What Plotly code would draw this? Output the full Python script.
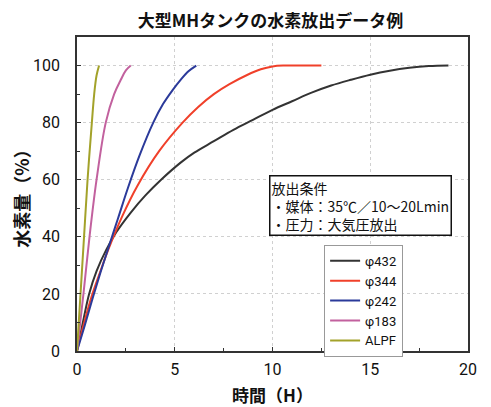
import plotly.graph_objects as go

title_text = "<b>大型MHタンクの水素放出データ例</b>"
x_title = "<b>時間（H）</b>"
y_title = "<b>水素量（%）</b>"
cond_text = "放出条件<br>・媒体：35℃／10～20Lmin<br>・圧力：大気圧放出"

series_names = ["φ432", "φ344", "φ242", "φ183", "ALPF"]
series_colors = ["#333333", "#f0402a", "#2b3a9a", "#c2619e", "#a3a22a"]

x_432 = [0, 0.3, 0.62, 1.0, 1.5, 2.0, 2.75, 3.5, 4.3, 5.3, 6.0, 7.0, 8.0, 9.0, 10.0, 11.0, 12.0, 13.0, 14.0, 15.0, 16.0, 17.0, 18.0, 19.0]
y_432 = [0, 10, 20, 28, 35.5, 41.5, 48.5, 54.5, 60, 66, 69.5, 73.5, 77.5, 81, 84.5, 87.5, 90.5, 93, 95, 96.8, 98.2, 99.2, 99.8, 100]

x_344 = [0, 0.37, 0.79, 1.2, 1.6, 2.3, 3.1, 4.2, 5.4, 6.2, 7.0, 7.8, 8.7, 9.4, 10.0, 10.6, 12.5]
y_344 = [0, 10, 20, 28, 35.5, 47, 58, 70, 80, 85.5, 90, 93.5, 96.7, 98.7, 99.7, 100, 100]

x_242 = [0, 0.4, 0.8, 1.2, 1.6, 2.1, 2.6, 3.2, 3.9, 4.4, 4.9, 5.3, 5.7, 6.1]
y_242 = [0, 9, 18.5, 27.5, 36, 46.5, 57, 68.5, 80, 86.5, 91.5, 95, 98, 100]

x_183 = [0, 0.33, 0.64, 1.0, 1.47, 1.9, 2.24, 2.5, 2.75]
y_183 = [0, 20, 40, 60, 80, 90, 95, 98.3, 100]

x_alpf = [0, 0.18, 0.36, 0.54, 0.76, 0.88, 1.0, 1.13]
y_alpf = [0, 20, 40, 60, 80, 90, 96.5, 100]

xs = [x_432, x_344, x_242, x_183, x_alpf]
ys = [y_432, y_344, y_242, y_183, y_alpf]

x_ticks = [0, 5, 10, 15, 20]
y_ticks = [0, 20, 40, 60, 80, 100]

FONT = "Noto Sans CJK JP"
NUM_FONT = "Roboto"

fig = go.Figure()
for name, color, xv, yv in zip(series_names, series_colors, xs, ys):
    fig.add_trace(go.Scatter(
        x=xv, y=yv, name=name, mode="lines",
        line=dict(color=color, width=2, shape="spline", smoothing=1.0),
    ))

# page body adds an 8px margin; figure is sized so plot area lands where the reference has it
fig.update_layout(
    width=483, height=399,
    margin=dict(l=69, r=23, t=29, b=56),
    paper_bgcolor="white", plot_bgcolor="white",
    font=dict(family=FONT, color="#222222"),
    title=dict(text=title_text, x=0.5435, xanchor="center", y=0.968, yanchor="middle",
               font=dict(size=17, family=FONT, color="#111111")),
    showlegend=True,
    legend=dict(
        x=0.632, y=0.338, xanchor="left", yanchor="top",
        bgcolor="white", bordercolor="#999999", borderwidth=1,
        font=dict(size=13, family=NUM_FONT, color="#111111"),
        tracegroupgap=0, itemwidth=30,
    ),
    annotations=[dict(
        text=cond_text, xref="paper", yref="paper",
        x=0.492, y=0.56, xanchor="left", yanchor="top",
        showarrow=False, align="left",
        font=dict(size=14, family=FONT, color="#111111"),
        bordercolor="#111111", borderwidth=1.5, borderpad=1, bgcolor="white",
    )],
)

fig.update_xaxes(
    automargin=False,
    range=[0, 20], tickvals=x_ticks, ticktext=[str(v) for v in x_ticks],
    showline=True, linecolor="#333333", linewidth=1.5, mirror=True,
    ticks="inside", ticklen=4, tickcolor="#333333", ticklabelstandoff=3,
    minor=dict(dtick=2.5, ticks="inside", ticklen=3, tickcolor="#333333", showgrid=False),
    showgrid=True, gridcolor="#d0d0d0", griddash="dot", gridwidth=1,
    zeroline=False,
    tickfont=dict(size=16, family=NUM_FONT, color="#111111"),
    title=dict(text=x_title, font=dict(size=17, family=FONT, color="#111111"), standoff=13),
)
fig.update_yaxes(
    automargin=False,
    range=[0, 110], tickvals=y_ticks, ticktext=[str(v) for v in y_ticks],
    showline=True, linecolor="#333333", linewidth=1.5, mirror=True,
    ticks="inside", ticklen=4, tickcolor="#333333", ticklabelstandoff=12,
    minor=dict(dtick=10, ticks="inside", ticklen=3, tickcolor="#333333", showgrid=False),
    showgrid=True, gridcolor="#d0d0d0", griddash="dot", gridwidth=1,
    zeroline=False,
    tickfont=dict(size=16, family=NUM_FONT, color="#111111"),
    title=dict(text=y_title, font=dict(size=18, family=FONT, color="#111111"), standoff=3),
)

fig.write_html("out.html")
